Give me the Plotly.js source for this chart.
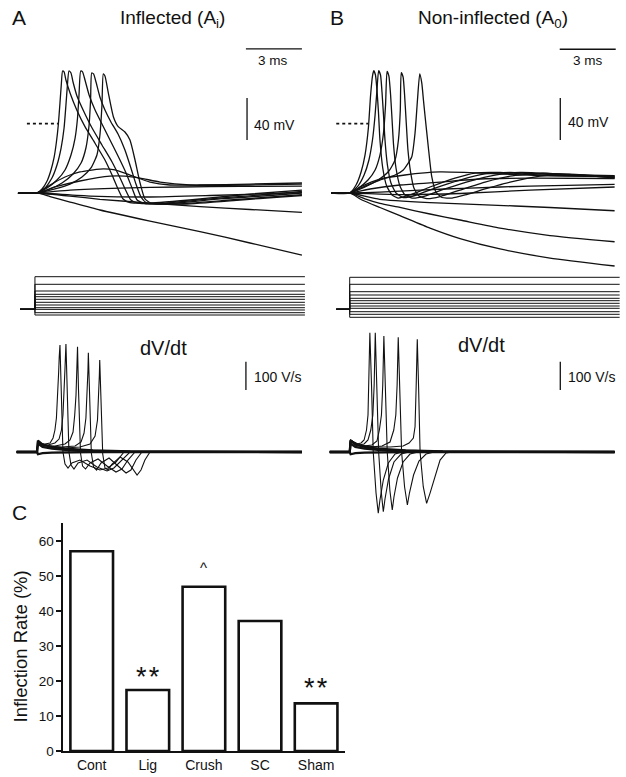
<!DOCTYPE html>
<html><head><meta charset="utf-8">
<script src="https://cdn.plot.ly/plotly-3.0.1.min.js"></script>
<style>html,body{margin:0;padding:0;background:#fff;}#chart{width:626px;height:777px;}</style>
</head><body><div id="chart"></div>
<script>
const W = 626, H = 777;
const FONT = 'Liberation Sans, Arial, Helvetica, sans-serif';
const INK = '#111';
const REST = -66;            // resting potential (mV)

// ---------- Panel A: inflected, membrane potential (ms, mV) ----------
const A_PRE_T = -1.02;
const A_volt_t = [
 [0,0.27,0.54,0.75,0.91,1.04,1.14,1.23,1.30,1.37,1.45,1.55,1.77,2.13,2.57,3.11,3.64,4.02,4.34,4.61,4.98,6.05,8.73,11.41,14.19],
 [0,0.43,0.80,1.07,1.29,1.45,1.55,1.63,1.71,1.82,1.93,2.14,2.52,2.95,3.48,4.02,4.45,4.77,5.03,5.41,6.59,9.27,11.94,14.19],
 [0,0.54,1.07,1.50,1.82,2.04,2.17,2.25,2.34,2.44,2.57,2.79,3.11,3.48,3.91,4.34,4.77,5.09,5.36,5.78,7.12,9.80,12.48,14.19],
 [0,0.70,1.34,1.93,2.36,2.62,2.79,2.87,2.93,3.03,3.16,3.37,3.64,3.96,4.34,4.71,5.03,5.30,5.57,5.89,7.39,10.34,12.75,14.19],
 [0,0.96,1.77,2.41,2.89,3.21,3.37,3.48,3.55,3.64,3.82,4.09,4.35,4.71,4.98,5.25,5.52,5.78,6.11,7.93,10.87,13.02,14.19],
 [0,0.70,1.50,2.30,3.37,4.18,4.98,6.05,7.12,8.73,11.41,14.19],
 [0,0.96,2.30,3.91,4.71,5.52,6.59,8.19,11.41,14.19],
 [0,1.77,4.45,7.66,10.87,14.19],
 [0,2.84,6.05,9.27,14.19],
 [0,1.77,3.37,6.05,8.73,11.41,14.19],
 [0,0.70,1.77,3.37,6.05,8.73,11.41,14.19]
];
const A_volt_v = [
 [-66,-62.2,-54.6,-44.1,-32.7,-17.5,-1.3,19.6,36.8,50.1,49.2,41.5,29.2,13.0,-2.9,-18.7,-34.6,-48.9,-62.2,-71.7,-75.1,-75.6,-71.7,-67.0,-63.2],
 [-66,-61.3,-51.8,-39.4,-23.2,-4.2,17.7,36.8,50.1,48.2,39.6,26.3,11.1,-4.2,-20.3,-36.5,-51.8,-64.1,-72.7,-75.6,-76.0,-71.7,-67.9,-64.6],
 [-66,-61.3,-53.7,-44.1,-29.9,-13.7,5.4,27.3,50.1,49.2,41.5,27.3,13.0,-0.3,-15.6,-30.8,-47.0,-61.3,-72.7,-76.0,-76.0,-71.7,-68.4,-66.0],
 [-66,-62.2,-56.5,-47.9,-37.5,-23.2,-1.3,22.5,48.2,47.3,39.6,25.4,13.0,1.6,-9.9,-25.1,-42.2,-57.5,-69.8,-75.6,-76.5,-72.7,-69.4,-67.5],
 [-66,-62.2,-57.5,-50.8,-42.2,-29.9,-10.8,17.7,47.3,45.3,29.2,6.6,-2.9,-8.0,-15.6,-34.6,-56.5,-71.7,-75.6,-76.5,-72.7,-69.8,-68.4],
 [-66,-58.4,-50.8,-46.0,-43.2,-44.1,-48.9,-55.6,-58.4,-58.4,-57.5,-56.5],
 [-66,-60.3,-54.6,-49.9,-49.9,-51.8,-55.6,-58.4,-58.4,-57.5],
 [-66,-63.2,-61.3,-60.3,-59.8,-59.4],
 [-66,-68.9,-69.8,-68.4,-65.6],
 [-66,-68.9,-72.0,-75.6,-78.9,-81.7,-84.4],
 [-66,-69.4,-74.6,-82.2,-92.7,-102.7,-113.6,-125.1]
];

// ---------- Panel B: non-inflected, membrane potential ----------
const B_PRE_T = -0.99;
const B_volt_t = [
 [0,0.34,0.61,0.82,1.00,1.12,1.22,1.29,1.38,1.46,1.54,1.62,1.77,1.98,2.27,2.59,3.23,4.30,5.64,6.71,8.05,10.19,14.19],
 [0,0.44,0.77,1.03,1.22,1.36,1.46,1.55,1.65,1.73,1.81,1.89,2.02,2.21,2.48,2.86,3.50,4.57,5.91,7.25,8.59,10.73,14.19],
 [0,0.55,0.98,1.36,1.62,1.81,1.92,2.00,2.10,2.19,2.27,2.35,2.48,2.69,2.96,3.34,4.03,5.10,6.44,7.78,9.12,11.26,14.19],
 [0,0.82,1.52,2.10,2.43,2.61,2.71,2.76,2.86,2.94,3.02,3.12,3.26,3.44,3.71,4.14,4.84,5.91,7.25,8.59,10.19,12.33,14.19],
 [0,0.82,1.62,2.43,2.87,3.32,3.50,3.63,3.75,3.86,3.95,4.03,4.21,4.39,4.62,4.94,5.48,6.18,7.25,8.59,10.19,11.80,14.19],
 [0,0.66,1.62,2.96,4.84,6.98,10.19,14.19],
 [0,1.09,2.69,4.84,6.98,9.66,14.19],
 [0,1.62,3.77,6.44,9.66,14.19],
 [0,2.69,5.91,9.66,14.19],
 [0,1.61,4.30,6.96,10.73,14.19],
 [0,0.82,1.62,2.69,4.30,5.91,8.05,10.73,14.19],
 [0,0.66,1.62,2.69,4.30,5.91,8.05,10.73,14.19]
];
const B_volt_v = [
 [-66,-58.4,-46.0,-29.9,-4.2,27.3,45.3,50.4,46.3,32.0,11.1,-15.6,-42.2,-59.4,-67.9,-70.8,-67.9,-60.3,-51.8,-47.0,-46.5,-48.9,-49.9],
 [-66,-59.4,-48.9,-34.6,-15.6,8.2,32.0,50.4,46.3,30.1,8.2,-15.6,-39.4,-56.5,-66.0,-70.3,-68.4,-61.3,-53.7,-47.9,-46.5,-48.4,-49.4],
 [-66,-60.3,-53.7,-44.1,-29.9,-8.9,17.7,49.8,45.3,27.3,3.5,-20.3,-42.2,-59.4,-67.9,-70.8,-68.9,-62.2,-54.6,-48.9,-46.5,-47.9,-51.3],
 [-66,-60.3,-53.7,-45.1,-34.6,-15.6,13.0,48.5,44.4,27.3,3.5,-25.1,-46.0,-61.3,-68.9,-71.3,-69.4,-63.2,-55.6,-49.9,-47.5,-49.0,-51.8],
 [-66,-59.4,-53.7,-48.9,-44.1,-31.8,-8.9,22.5,47.3,38.7,22.5,8.2,-22.2,-49.9,-65.1,-70.3,-70.8,-67.9,-62.2,-55.6,-49.9,-48.0,-50.8],
 [-66,-59.4,-52.7,-48.9,-46.0,-47.0,-49.4,-50.3],
 [-66,-62.2,-58.4,-55.6,-52.7,-51.8,-52.2],
 [-66,-65.1,-63.2,-61.3,-59.4,-57.9],
 [-66,-67.5,-66.5,-63.2,-60.3],
 [-66,-72.0,-75.1,-77.0,-79.8,-82.9],
 [-66,-71.7,-76.0,-79.8,-86.0,-91.7,-99.4,-106.5,-112.4],
 [-66,-72.7,-79.8,-87.5,-99.4,-109.4,-119.3,-127.9,-135.5]
];

// ---------- Current steps (nA) ----------
const A_step_t = [-0.91, -0.11, 14.35];
const A_step_levels = [3.26,2.5,1.83,1.5,1.26,1.0,0.7,0.43,0.16,-0.07,-0.34,-0.57];
const B_step_t = [-0.72, 0, 14.46];
const B_step_levels = [3.2,2.5,1.76,1.43,1.1,0.86,0.6,0.33,0.1,-0.24,-0.5,-0.8];

// ---------- dV/dt (V/s) ----------
const A_dvdt_pre = -1.09, B_dvdt_pre = -1.07, DVDT_END = 14.19;
const A_dvdt_t = [
 [0,0.05,0.21,0.43,0.70,0.86,0.96,1.04,1.11,1.16,1.19,1.23,1.29,1.34,1.39,1.50,1.66,1.87,2.30,2.84,3.37,3.80,4.23,4.66],
 [0,0.05,0.27,0.59,0.96,1.18,1.31,1.39,1.45,1.50,1.55,1.61,1.66,1.71,1.82,1.98,2.20,2.68,3.21,3.75,4.12,4.55,4.98],
 [0,0.05,0.43,0.96,1.50,1.77,1.93,2.02,2.09,2.14,2.17,2.22,2.28,2.33,2.44,2.60,2.84,3.27,3.75,4.23,4.55,4.87,5.25],
 [0,0.05,0.59,1.34,2.04,2.36,2.52,2.62,2.69,2.73,2.75,2.80,2.85,2.91,3.03,3.19,3.43,3.86,4.28,4.77,5.03,5.30,5.62],
 [0,0.05,0.70,1.50,2.30,2.84,3.11,3.24,3.30,3.34,3.36,3.41,3.47,3.52,3.64,3.80,4.02,4.45,4.87,5.36,5.57,5.78,6.05]
];
const A_dvdt_v = [
 [0,35.3,28.3,28.3,31.8,49.5,77.7,120.2,194.4,282.7,335.7,378.1,236.8,77.7,0,-42.4,-56.5,-38.9,-28.3,-49.5,-63.6,-56.5,-35.3,0],
 [0,35.3,24.7,24.7,31.8,45.9,77.7,130.8,201.4,296.9,381.7,236.8,77.7,0,-45.9,-60.1,-38.9,-28.3,-53.0,-67.1,-56.5,-28.3,0],
 [0,35.3,21.2,21.2,28.3,42.4,70.7,130.8,201.4,307.5,372.1,226.2,70.7,-3.5,-49.5,-60.1,-38.9,-24.7,-49.5,-70.7,-60.1,-28.3,0],
 [0,35.3,21.2,17.7,21.2,35.3,67.1,120.2,201.4,289.8,350.9,212.0,63.6,-3.5,-53.0,-63.6,-38.9,-21.2,-45.9,-74.2,-63.6,-28.3,0],
 [0,35.3,17.7,14.1,17.7,28.3,56.5,113.1,190.8,272.1,325.1,190.8,56.5,-7.1,-56.5,-63.6,-42.4,-17.7,-35.3,-81.3,-63.6,-28.3,0]
];
const B_dvdt_t = [
 [0,0.04,0.18,0.39,0.61,0.77,0.90,0.98,1.03,1.08,1.17,1.26,1.41,1.53,1.62,1.80,2.07,2.43,2.80],
 [0,0.04,0.23,0.50,0.77,0.98,1.13,1.24,1.31,1.37,1.45,1.55,1.69,1.80,1.89,2.08,2.37,2.75,3.18],
 [0,0.04,0.34,0.77,1.19,1.46,1.59,1.70,1.77,1.83,1.91,2.01,2.15,2.28,2.37,2.56,2.86,3.23,3.66],
 [0,0.04,0.44,1.09,1.73,2.16,2.36,2.47,2.54,2.60,2.68,2.78,2.94,3.09,3.20,3.42,3.71,4.09,4.52],
 [0,0.04,0.55,1.36,2.16,2.86,3.18,3.41,3.50,3.56,3.62,3.69,3.77,3.94,4.12,4.30,4.57,4.84,5.16,5.48]
];
const B_dvdt_v = [
 [0,42.4,35.3,28.3,31.8,42.4,77.7,130.8,236.8,421.6,233.2,0,-144.9,-216.6,-169.6,-99.0,-38.9,-7.1,0],
 [0,42.4,31.8,24.7,28.3,42.4,77.7,130.8,236.8,421.6,233.2,0,-141.3,-211.0,-166.1,-95.4,-35.3,-7.1,0],
 [0,42.4,28.3,21.2,24.7,38.9,77.7,130.8,236.8,409.9,226.2,0,-134.3,-205.0,-159.0,-91.9,-35.3,-7.1,0],
 [0,42.4,24.7,17.7,21.2,35.3,77.7,130.8,236.8,405.4,226.2,0,-123.7,-187.3,-144.9,-81.3,-31.8,-7.1,0],
 [0,42.4,24.7,17.7,17.7,21.2,31.8,49.5,89.4,230.8,398.3,230.8,0,-122.6,-181.3,-146.0,-87.3,-28.3,-3.5,0]
];
// sub-threshold dV/dt (onset transients)
const sub_dvdt_t = [0,0.05,0.3,0.8,1.5,3.0,5.0,14.19];
const sub_dvdt_v = [
 [0,40,26,18,12,6,2,0],
 [0,30,18,12,8,4,1,0],
 [0,-8,-4,-2,-1,0,0,0]
];

// ---------- Panel C ----------
const groups = ['Cont','Lig','Crush','SC','Sham'];
const inflectionRate = [57.0, 17.4, 46.9, 37.1, 13.6];
const marks = [{g:'Lig', t:'*\u200A*', py:677, s:27},{g:'Sham', t:'*\u200A*', py:688, s:27},{g:'Crush', t:'^', py:567.4, s:15}];

// ---------- build ----------
const traces = [];
function vtrace(t, v, pre, xa, ya){
  traces.push({type:'scatter', mode:'lines', x:[pre].concat(t), y:[REST].concat(v), xaxis:xa, yaxis:ya,
    line:{color:INK, width:1.3, shape:'spline', smoothing:0.5}, hoverinfo:'skip'});
}
A_volt_t.forEach((t,i)=>vtrace(t, A_volt_v[i], A_PRE_T, 'x', 'y'));
B_volt_t.forEach((t,i)=>vtrace(t, B_volt_v[i], B_PRE_T, 'x2', 'y2'));

function steps(ts, levels, xa, ya){
  levels.forEach(L=>traces.push({type:'scatter', mode:'lines', x:[ts[0],ts[1],ts[1],ts[2]], y:[0,0,L,L],
    xaxis:xa, yaxis:ya, line:{color:INK, width:1}, hoverinfo:'skip'}));
}
steps(A_step_t, A_step_levels, 'x', 'y3');
steps(B_step_t, B_step_levels, 'x2', 'y4');

function dtrace(t, v, pre, xa, ya, w){
  traces.push({type:'scatter', mode:'lines', x:[pre].concat(t, [DVDT_END]), y:[0].concat(v, [0]), xaxis:xa, yaxis:ya,
    line:{color:INK, width:w}, hoverinfo:'skip'});
}
sub_dvdt_v.forEach(v=>{ dtrace(sub_dvdt_t, v, A_dvdt_pre, 'x', 'y5', 2.3); dtrace(sub_dvdt_t, v, B_dvdt_pre, 'x2', 'y6', 2.3); });
A_dvdt_t.forEach((t,i)=>dtrace(t, A_dvdt_v[i], A_dvdt_pre, 'x', 'y5', 1.1));
B_dvdt_t.forEach((t,i)=>dtrace(t, B_dvdt_v[i], B_dvdt_pre, 'x2', 'y6', 1.1));

traces.push({type:'bar', x:groups, y:inflectionRate, xaxis:'x3', yaxis:'y7', width:0.76,
  marker:{color:'#fff', line:{color:INK, width:2.6}}, hoverinfo:'skip'});

function fx(px){return px/W;} function fy(py){return 1-py/H;}
function ann(text, px, py, size, opts){
  return Object.assign({text:text, x:fx(px), y:fy(py), xref:'paper', yref:'paper', showarrow:false,
    xanchor:'center', yanchor:'middle', font:{family:FONT, size:size, color:INK}}, opts||{});
}
const annotations = [
  ann('A', 18.5, 18, 21),
  ann('Inflected (A<sub>i</sub>)', 172, 19, 19),
  ann('B', 337, 18, 21),
  ann('Non-inflected (A<sub>0</sub>)', 493, 19, 19),
  ann('3 ms', 273, 61, 13.5),
  ann('40 mV', 251.5, 125, 14, {xanchor:'left'}),
  ann('3 ms', 588, 61, 13.5),
  ann('40 mV', 566, 122, 14, {xanchor:'left'}),
  ann('dV/dt', 163.3, 348, 20),
  ann('100 V/s', 251.5, 376.7, 14, {xanchor:'left'}),
  ann('dV/dt', 481.3, 345, 20),
  ann('100 V/s', 566.3, 376.7, 14, {xanchor:'left'}),
  ann('C', 19, 512.5, 21),
  ann('Inflection Rate (%)', 20, 646.5, 18.5, {textangle:-90})
];
marks.forEach(m=>{
  const idx = groups.indexOf(m.g);
  annotations.push({text:m.t, x:idx, xref:'x3', y:fy(m.py), yref:'paper', showarrow:false, xanchor:'center', yanchor:'middle',
    font:{family:FONT, size:m.s, color:INK}});
});

const shapes = [
  // 0 mV reference dots
  {type:'line', xref:'x', yref:'y', x0:-0.54, x1:1.12, y0:0, y1:0, line:{color:INK, width:1.6, dash:'dot'}},
  {type:'line', xref:'x2', yref:'y2', x0:-0.72, x1:0.98, y0:0, y1:0, line:{color:INK, width:1.6, dash:'dot'}},
  // scale bars A
  {type:'line', xref:'x', yref:'y', x0:11.19, x1:14.19, y0:71.1, y1:71.1, line:{color:INK, width:1.3}},
  {type:'line', xref:'x', yref:'y', x0:11.25, x1:11.25, y0:-15.6, y1:24.4, line:{color:INK, width:1.3}},
  {type:'line', xref:'x', yref:'y5', x0:11.19, x1:11.19, y0:219, y1:319, line:{color:INK, width:1.3}},
  // scale bars B
  {type:'line', xref:'x2', yref:'y2', x0:11.25, x1:14.25, y0:70.8, y1:70.8, line:{color:INK, width:1.3}},
  {type:'line', xref:'x2', yref:'y2', x0:11.28, x1:11.28, y0:-15.6, y1:24.4, line:{color:INK, width:1.3}},
  {type:'line', xref:'x2', yref:'y6', x0:11.28, x1:11.28, y0:219, y1:319, line:{color:INK, width:1.3}}
];

const hid = {visible:false, fixedrange:true};
const layout = {
  width:W, height:H, margin:{l:0,r:0,t:0,b:0}, paper_bgcolor:'#fff', plot_bgcolor:'rgba(0,0,0,0)',
  showlegend:false, font:{family:FONT, color:INK},
  xaxis: Object.assign({domain:[0,0.5], range:[-1.982,14.783], anchor:'y'}, hid),
  xaxis2: Object.assign({domain:[0.5,1], range:[-1.966,14.80], anchor:'y2'}, hid),
  yaxis: Object.assign({domain:[fy(270),fy(40)], range:[-139.3,79.6], anchor:'x'}, hid),
  yaxis2: Object.assign({domain:[fy(270),fy(40)], range:[-139.3,79.6], anchor:'x2'}, hid),
  yaxis3: Object.assign({domain:[fy(322),fy(270)], range:[-1.27,3.93], anchor:'x'}, hid),
  yaxis4: Object.assign({domain:[fy(322),fy(270)], range:[-1.27,3.93], anchor:'x2'}, hid),
  yaxis5: Object.assign({domain:[fy(530),fy(325)], range:[-275.6,448.8], anchor:'x'}, hid),
  yaxis6: Object.assign({domain:[fy(530),fy(325)], range:[-275.6,448.8], anchor:'x2'}, hid),
  xaxis3: {domain:[fx(62.7), fx(345)], range:[-0.517,4.515], anchor:'y7', type:'category',
    showline:true, linecolor:INK, linewidth:1.8, ticks:'', showgrid:false, zeroline:false,
    tickfont:{family:FONT, size:14, color:INK}, fixedrange:true},
  yaxis7: {domain:[fy(751), fy(523.3)], range:[0,65], anchor:'x3', tickvals:[0,10,20,30,40,50,60],
    showline:true, linecolor:INK, linewidth:1.8, ticks:'outside', ticklen:4.5, tickwidth:1.5, tickcolor:INK,
    showgrid:false, zeroline:false, tickfont:{family:FONT, size:13.5, color:INK}, fixedrange:true},
  annotations: annotations,
  shapes: shapes
};
Plotly.newPlot('chart', traces, layout, {staticPlot:true, displayModeBar:false});
</script>
</body></html>
